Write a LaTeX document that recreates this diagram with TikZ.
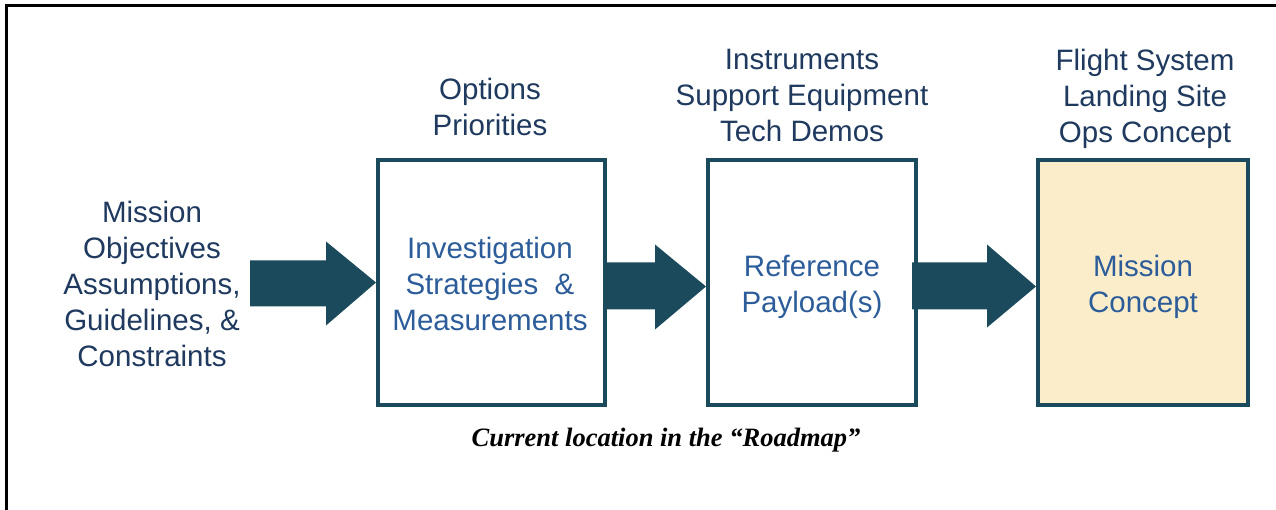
\documentclass[tikz,border=0pt]{standalone}
\usepackage{fontspec}
\setmainfont{Liberation Sans}
\newfontfamily\capfont{Liberation Serif}
\usetikzlibrary{calc}
\definecolor{teal}{HTML}{1B4A5C}
\definecolor{navy}{HTML}{1F3A5E}
\definecolor{inblue}{HTML}{2C5D9A}
\definecolor{cream}{HTML}{FCEDCA}
\begin{document}
\begin{tikzpicture}[x=1pt,y=-1pt,
  stagebox/.style={draw=teal,line width=4pt,minimum width=#1,minimum height=245pt,inner sep=0pt},
  stagebox/.default=227pt,
  lbl/.style={text=navy,font=\fontsize{29.5}{36}\selectfont,align=center,inner sep=0pt},
  inlbl/.style={text=inblue,font=\fontsize{29.5}{36}\selectfont,align=center,inner sep=0pt},
  blockarrow/.style={fill=teal,draw=none}]
\useasboundingbox (0,0) rectangle (1276,510);
\fill[white] (0,0) rectangle (1276,510);
\draw[line width=3pt,black] (6,510) -- (6,6) -- (1276,6);

\node[stagebox=227pt] (b1) at (491.5,282.5) {};
\node[stagebox=208pt] (b2) at (812,282.5) {};
\node[stagebox=210pt,fill=cream] (b3) at (1143,282.5) {};

\node[lbl] (inputs) at (152,284) {Mission\\Objectives\\Assumptions,\\Guidelines, \&\\Constraints};
\node[lbl] (t1) at (490,107) {Options\\Priorities};
\node[lbl] (t2) at (802,95) {Instruments\\Support Equipment\\Tech Demos};
\node[lbl] (t3) at (1145,99) {Flight System\\Landing Site\\Ops Concept};

\node[inlbl] (i1) at (490,284) {Investigation\\Strategies \ \&\\Measurements};
\node[inlbl] (i2) at (812,287) {Reference\\Payload(s)};
\node[inlbl] (i3) at (1143,287) {Mission\\Concept};

\node[font=\capfont\bfseries\itshape\fontsize{26.5}{30}\selectfont,inner sep=0pt] (cap) at (666,440) {Current location in the “Roadmap”};

% block arrows
\fill[blockarrow] ($(b1.west)+(-126,-22)$) -- ($(b1.west)+(-50,-22)$) -- ($(b1.west)+(-50,-41)$)
  -- ($(b1.west)+(0,0)$) -- ($(b1.west)+(-50,43)$) -- ($(b1.west)+(-50,24)$) -- ($(b1.west)+(-126,24)$) -- cycle;
\fill[blockarrow] ($(b1.east)+(0,-20)$) -- ($(b2.west)+(-51,-20)$) -- ($(b2.west)+(-51,-38)$)
  -- ($(b2.west)+(0,4)$) -- ($(b2.west)+(-51,47)$) -- ($(b2.west)+(-51,27)$) -- ($(b1.east)+(0,27)$) -- cycle;
\fill[blockarrow] ($(b2.east)+(-6,-20)$) -- ($(b3.west)+(-49,-20)$) -- ($(b3.west)+(-49,-38)$)
  -- ($(b3.west)+(0,4)$) -- ($(b3.west)+(-49,45)$) -- ($(b3.west)+(-49,27)$) -- ($(b2.east)+(-6,27)$) -- cycle;
\end{tikzpicture}
\end{document}
